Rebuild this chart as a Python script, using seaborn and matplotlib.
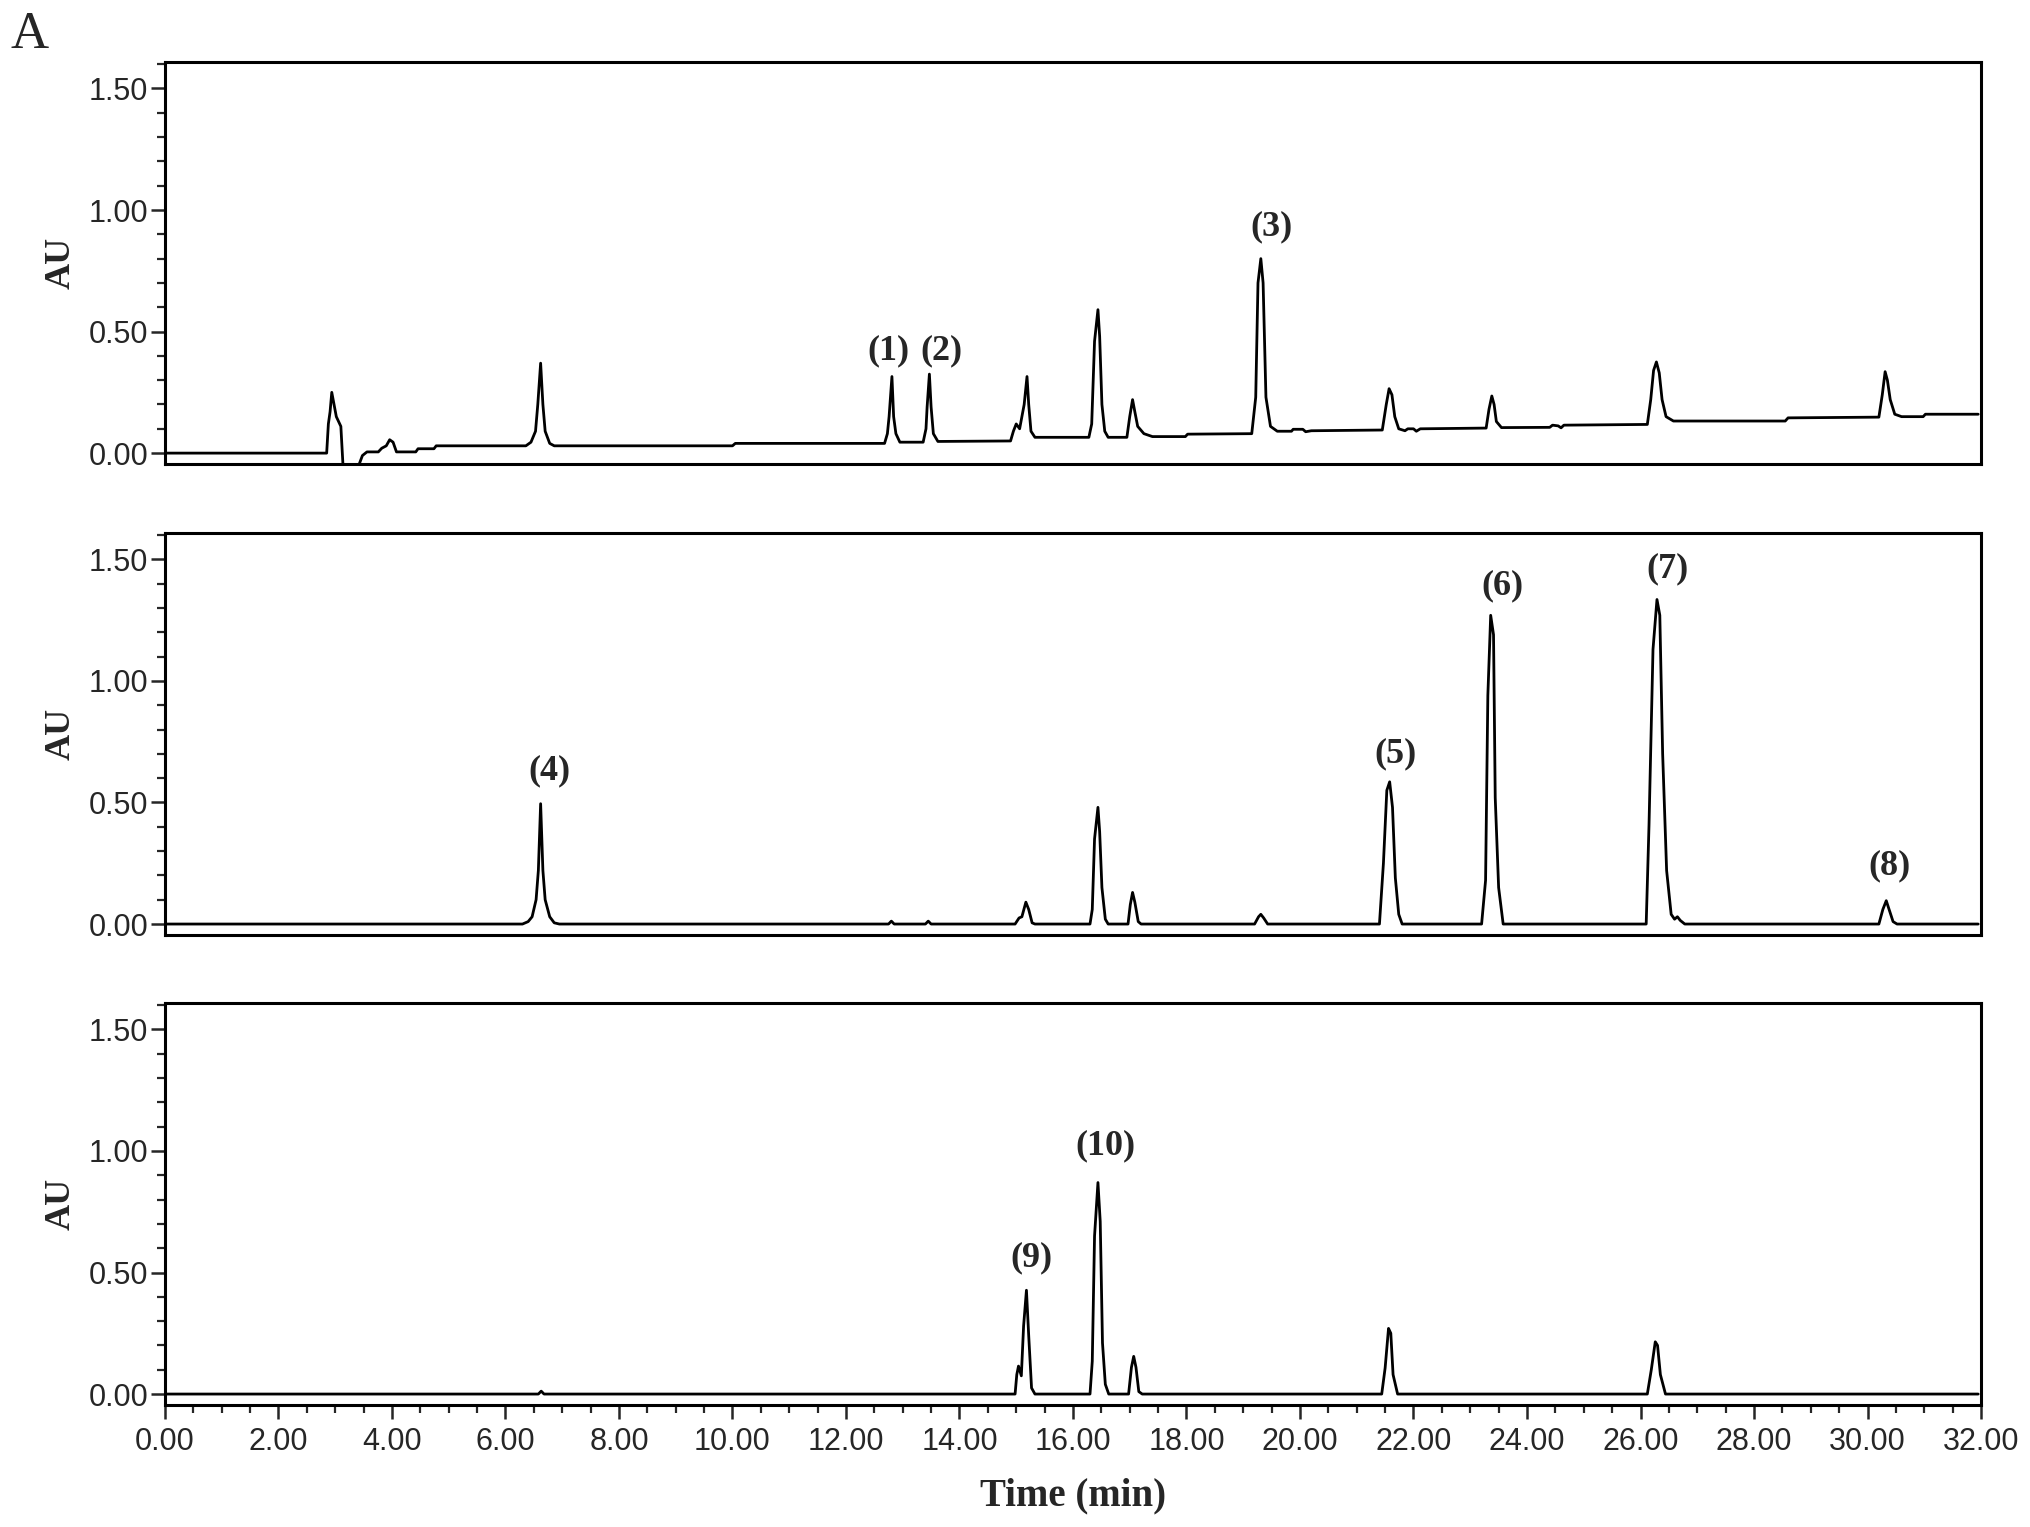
import numpy as np
import pandas as pd
import matplotlib
matplotlib.use("Agg")
import matplotlib.pyplot as plt
import seaborn as sns
from matplotlib import font_manager
from matplotlib.ticker import MultipleLocator, FormatStrFormatter

sns.set_style("white")

# tick label font: narrow sans if we have it
installed = set(f.name for f in font_manager.fontManager.ttflist)
tick_family = "Liberation Sans Narrow" if "Liberation Sans Narrow" in installed else "Liberation Sans"
serif = "Liberation Serif"

# chromatogram traces, (time [min], absorbance [AU])
trace_top = [
    (0.00, 0.000), (2.85, 0.000),
    (2.88, 0.120), (2.91, 0.170), (2.94, 0.250), (2.98, 0.200), (3.02, 0.150), (3.07, 0.125), (3.10, 0.110),
    (3.14, -0.060), (3.40, -0.060),
    (3.48, -0.010), (3.56, 0.005), (3.76, 0.005), (3.82, 0.020), (3.90, 0.030), (3.96, 0.055), (4.02, 0.045),
    (4.08, 0.005), (4.42, 0.005), (4.46, 0.018), (4.74, 0.018), (4.78, 0.030),
    (6.36, 0.030), (6.45, 0.045), (6.53, 0.090), (6.57, 0.200), (6.62, 0.370), (6.66, 0.200), (6.70, 0.090),
    (6.78, 0.040), (6.86, 0.030),
    (10.00, 0.030), (10.05, 0.040),
    (12.68, 0.040), (12.73, 0.080), (12.76, 0.150), (12.81, 0.315), (12.84, 0.150), (12.88, 0.080), (12.95, 0.045),
    (13.36, 0.045), (13.41, 0.100), (13.43, 0.190), (13.47, 0.325), (13.50, 0.190), (13.54, 0.080), (13.62, 0.048),
    (14.90, 0.050), (14.95, 0.090), (15.00, 0.120), (15.06, 0.100), (15.10, 0.150), (15.14, 0.200), (15.19, 0.315),
    (15.22, 0.200), (15.26, 0.090), (15.33, 0.065),
    (16.28, 0.065), (16.33, 0.120), (16.38, 0.460), (16.44, 0.590), (16.47, 0.480), (16.51, 0.200), (16.56, 0.090),
    (16.62, 0.065),
    (16.95, 0.065), (17.00, 0.150), (17.05, 0.220), (17.09, 0.170), (17.14, 0.110), (17.25, 0.080), (17.40, 0.068),
    (17.98, 0.068), (18.02, 0.078),
    (19.15, 0.080), (19.22, 0.230), (19.26, 0.700), (19.31, 0.800), (19.35, 0.700), (19.40, 0.230), (19.48, 0.110),
    (19.60, 0.090), (19.85, 0.090), (19.88, 0.098), (20.05, 0.098), (20.10, 0.088), (20.20, 0.092),
    (21.45, 0.095), (21.52, 0.200), (21.57, 0.265), (21.62, 0.240), (21.67, 0.150), (21.74, 0.100), (21.85, 0.092),
    (21.90, 0.100), (22.00, 0.100), (22.05, 0.090), (22.12, 0.100),
    (23.28, 0.103), (23.33, 0.180), (23.38, 0.235), (23.42, 0.200), (23.46, 0.130), (23.55, 0.105),
    (24.40, 0.106), (24.45, 0.115), (24.55, 0.112), (24.60, 0.104), (24.65, 0.115),
    (26.12, 0.118), (26.18, 0.220), (26.23, 0.340), (26.28, 0.375), (26.33, 0.330), (26.38, 0.220), (26.45, 0.150),
    (26.58, 0.132),
    (28.55, 0.132), (28.60, 0.145),
    (30.20, 0.148), (30.26, 0.240), (30.31, 0.335), (30.35, 0.300), (30.40, 0.220), (30.48, 0.160), (30.60, 0.150),
    (30.98, 0.150), (31.02, 0.160), (31.95, 0.160),
]

trace_mid = [
    (0.00, 0.000), (6.30, 0.000), (6.40, 0.010), (6.47, 0.030), (6.54, 0.100), (6.58, 0.220), (6.62, 0.495),
    (6.66, 0.220), (6.70, 0.100), (6.78, 0.030), (6.86, 0.005), (6.95, 0.000),
    (12.75, 0.000), (12.80, 0.012), (12.85, 0.000), (13.40, 0.000), (13.45, 0.012), (13.50, 0.000),
    (14.98, 0.000), (15.05, 0.025), (15.10, 0.030), (15.17, 0.090), (15.22, 0.060), (15.28, 0.005), (15.33, 0.000),
    (16.30, 0.000), (16.34, 0.060), (16.38, 0.350), (16.44, 0.480), (16.47, 0.380), (16.51, 0.150), (16.57, 0.020),
    (16.62, 0.000),
    (16.97, 0.000), (17.01, 0.080), (17.05, 0.130), (17.09, 0.090), (17.15, 0.010), (17.20, 0.000),
    (19.20, 0.000), (19.27, 0.030), (19.31, 0.040), (19.36, 0.025), (19.43, 0.000),
    (21.40, 0.000), (21.47, 0.250), (21.53, 0.550), (21.58, 0.585), (21.63, 0.480), (21.68, 0.190), (21.74, 0.040),
    (21.80, 0.000),
    (23.20, 0.000), (23.27, 0.180), (23.31, 0.940), (23.36, 1.270), (23.41, 1.190), (23.44, 0.520), (23.50, 0.150),
    (23.58, 0.000),
    (26.10, 0.000), (26.15, 0.410), (26.22, 1.130), (26.29, 1.335), (26.34, 1.270), (26.39, 0.700), (26.46, 0.220),
    (26.54, 0.040), (26.60, 0.020), (26.65, 0.030), (26.70, 0.015), (26.78, 0.000),
    (30.20, 0.000), (30.27, 0.060), (30.33, 0.096), (30.38, 0.060), (30.45, 0.010), (30.52, 0.000), (31.95, 0.000),
]

trace_bot = [
    (0.00, 0.000), (6.58, 0.000), (6.63, 0.012), (6.68, 0.000),
    (14.98, 0.000), (15.01, 0.080), (15.04, 0.115), (15.09, 0.075), (15.13, 0.280), (15.18, 0.427), (15.22, 0.240),
    (15.27, 0.025), (15.33, 0.000),
    (16.30, 0.000), (16.34, 0.135), (16.38, 0.650), (16.44, 0.870), (16.48, 0.710), (16.52, 0.210), (16.57, 0.040),
    (16.63, 0.000),
    (16.98, 0.000), (17.03, 0.110), (17.07, 0.155), (17.11, 0.110), (17.16, 0.010), (17.22, 0.000),
    (21.44, 0.000), (21.50, 0.107), (21.56, 0.270), (21.60, 0.250), (21.64, 0.080), (21.72, 0.000),
    (26.12, 0.000), (26.19, 0.100), (26.26, 0.215), (26.30, 0.200), (26.35, 0.080), (26.44, 0.000), (31.95, 0.000),
]

# peak labels: panel index, text, position (data coords)
label_panel = [0, 0, 0, 1, 1, 1, 1, 1, 2, 2]
label_text = ["(1)", "(2)", "(3)", "(4)", "(5)", "(6)", "(7)", "(8)", "(9)", "(10)"]
label_x = [12.75, 13.69, 19.50, 6.77, 21.69, 23.57, 26.47, 30.38, 15.27, 16.57]
label_y = [0.42, 0.42, 0.93, 0.63, 0.70, 1.39, 1.46, 0.24, 0.56, 1.02]

traces = [trace_top, trace_mid, trace_bot]

fig = plt.figure(figsize=(20.31, 15.27), dpi=100)
bottoms = [0.6961, 0.3877, 0.0799]
axes = [fig.add_axes([0.0812, b, 0.8942, 0.263]) for b in bottoms]

for i, ax in enumerate(axes):
    df = pd.DataFrame(traces[i], columns=["time", "au"])
    sns.lineplot(data=df, x="time", y="au", ax=ax, color="black", linewidth=2.0,
                 estimator=None, sort=False)
    ax.set_xlim(0, 32)
    ax.set_ylim(-0.045, 1.607)
    for sp in ax.spines.values():
        sp.set_visible(True)
        sp.set_linewidth(2.2)
        sp.set_color("black")
    ax.yaxis.set_major_locator(MultipleLocator(0.5))
    ax.yaxis.set_minor_locator(MultipleLocator(0.1))
    ax.yaxis.set_major_formatter(FormatStrFormatter("%.2f"))
    ax.tick_params(axis="y", which="major", direction="out", length=10, width=1.8, pad=2,
                   left=True, right=False)
    ax.tick_params(axis="y", which="minor", direction="out", length=6, width=1.6, left=True, right=False)
    for lab in ax.get_yticklabels():
        lab.set_fontfamily(tick_family)
        lab.set_fontsize(22)
    ax.set_ylabel("AU", fontsize=26, fontweight="bold", family=serif)
    ax.yaxis.set_label_coords(-0.048, 0.5)
    ax.set_xlabel("")
    if i < 2:
        ax.tick_params(axis="x", which="both", bottom=False, top=False, labelbottom=False)
    else:
        ax.xaxis.set_major_locator(MultipleLocator(2))
        ax.xaxis.set_minor_locator(MultipleLocator(0.5))
        ax.xaxis.set_major_formatter(FormatStrFormatter("%.2f"))
        ax.tick_params(axis="x", which="major", direction="out", length=10, width=1.8, pad=6,
                       bottom=True, top=False)
        ax.tick_params(axis="x", which="minor", direction="out", length=6, width=1.6, bottom=True, top=False)
        for lab in ax.get_xticklabels():
            lab.set_fontfamily(tick_family)
            lab.set_fontsize(22)
        ax.set_xlabel("Time (min)", fontsize=28, fontweight="bold", family=serif)
        ax.xaxis.set_label_coords(0.5, -0.18)

for p, t, x, y in zip(label_panel, label_text, label_x, label_y):
    axes[p].text(x, y, t, ha="center", va="center", fontsize=26, fontweight="bold", family=serif)

fig.text(0.005, 0.993, "A", ha="left", va="top", fontsize=38, family=serif)

fig.savefig("out.png", dpi=100, facecolor="white")
